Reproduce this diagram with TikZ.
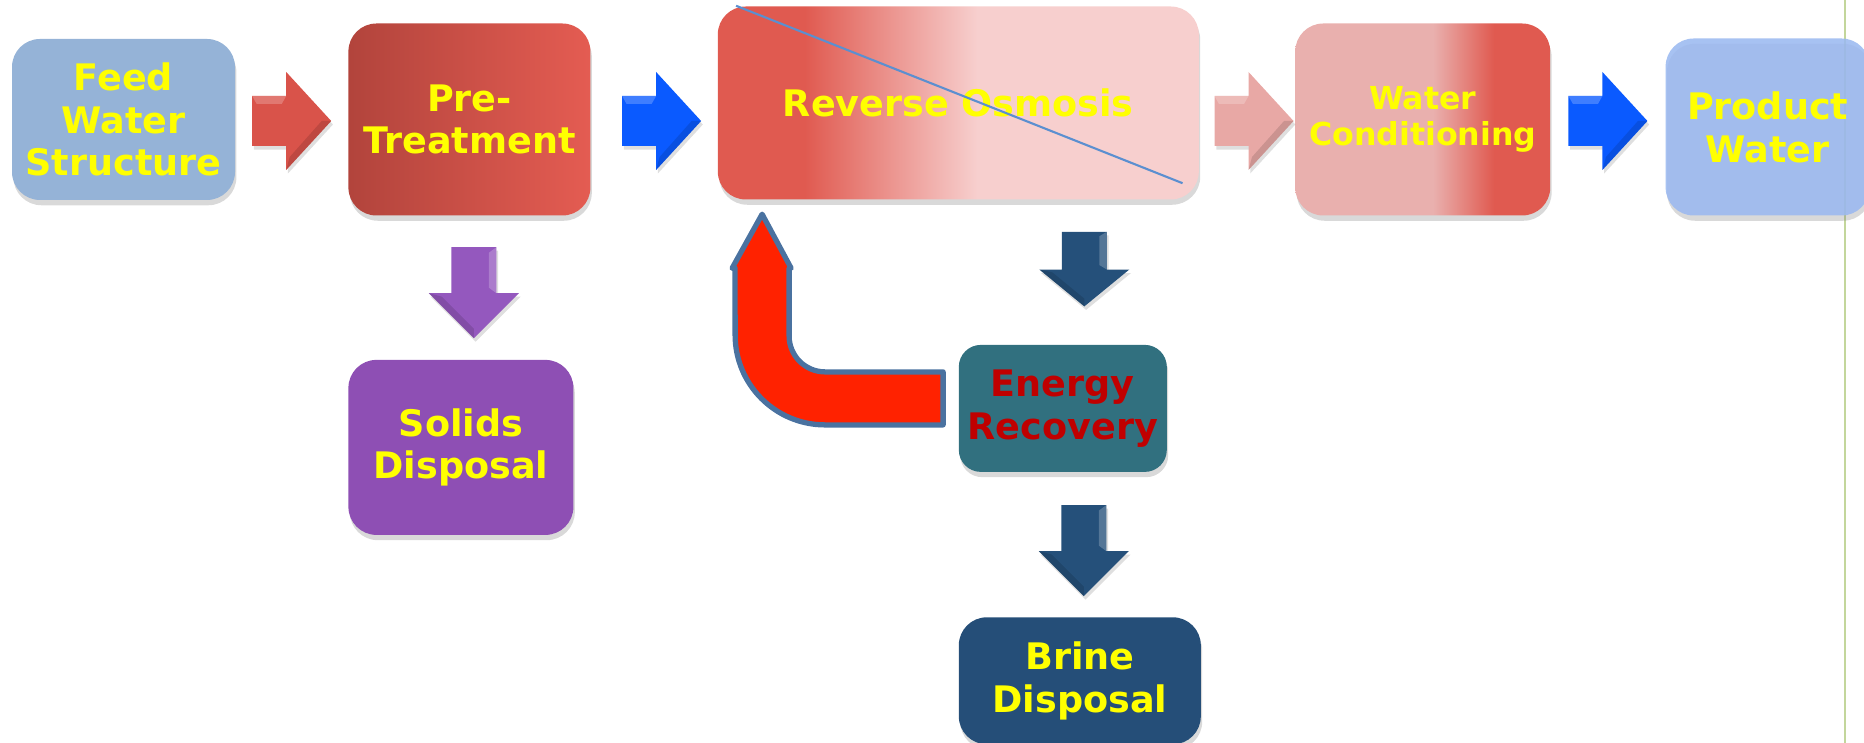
\documentclass[tikz,border=0pt]{standalone}
\usepackage{fontspec}
\setmainfont{DejaVu Sans}
\usetikzlibrary{positioning, calc, shadows}
\definecolor{textyellow}{RGB}{255, 255, 0}
\definecolor{feedblue}{RGB}{149, 179, 215}
\definecolor{preleft}{RGB}{178, 68, 60}
\definecolor{preright}{RGB}{228, 92, 82}
\definecolor{roleft}{RGB}{224, 90, 80}
\definecolor{roright}{RGB}{247, 207, 206}
\definecolor{wcleft}{RGB}{233, 176, 174}
\definecolor{wcright}{RGB}{224, 90, 80}
\definecolor{prodblue}{RGB}{155, 185, 240}
\definecolor{solidpurple}{RGB}{142, 79, 180}
\definecolor{energyteal}{RGB}{49, 112, 127}
\definecolor{energyred}{RGB}{192, 0, 0}
\definecolor{brineblue}{RGB}{37, 78, 120}
\definecolor{arrowred}{RGB}{217, 83, 74}
\definecolor{arrowblue}{RGB}{10, 90, 255}
\definecolor{arrowpink}{RGB}{232, 168, 165}
\definecolor{arrowpurple}{RGB}{148, 88, 190}
\definecolor{arrowdark}{RGB}{37, 80, 122}
\definecolor{uturnred}{RGB}{255, 34, 0}
\definecolor{uturnedge}{RGB}{74, 114, 160}
\definecolor{strikeblue}{RGB}{91, 143, 208}
\definecolor{sidegreen}{RGB}{195, 214, 155}
\pgfdeclarehorizontalshading{roshade}{100bp}{color(0bp)=(roleft); color(34bp)=(roleft); color(52bp)=(roright); color(100bp)=(roright)}
\pgfdeclarehorizontalshading{wcshade}{100bp}{color(0bp)=(wcleft); color(52bp)=(wcleft); color(64bp)=(wcright); color(100bp)=(wcright)}
\tikzset{
    stage/.style={rectangle, rounded corners=0.28cm, inner sep=0pt, align=center, text=textyellow, font=\bfseries\fontsize{10.4}{12.2}\selectfont, drop shadow={shadow xshift=0.4pt, shadow yshift=-1.5pt, opacity=0.3}},
    uturn/.style={fill=uturnred, draw=uturnedge, line width=1.5pt, line join=round},
    strike/.style={strikeblue, line width=0.6pt},
    rblock/.pic={
        \fill[drop shadow={shadow xshift=0.5pt, shadow yshift=-1pt, opacity=0.25}] (-0.395,0.25) -- (-0.055,0.25) -- (-0.055,0.49) -- (0.395,0) -- (-0.055,-0.49) -- (-0.055,-0.25) -- (-0.395,-0.25) -- cycle;
        \fill[white, opacity=0.22] (-0.395,0.25) -- (-0.055,0.25) -- (-0.1,0.17) -- (-0.35,0.17) -- cycle;
        \fill[black, opacity=0.12] (-0.055,-0.49) -- (0.395,0) -- (0.3,0) -- (-0.02,-0.36) -- cycle;
    },
    dblock/.pic={
        \fill[drop shadow={shadow xshift=0.5pt, shadow yshift=-1pt, opacity=0.25}] (-0.225,0.455) -- (0.225,0.455) -- (0.225,-0.005) -- (0.45,-0.005) -- (0,-0.455) -- (-0.45,-0.005) -- (-0.225,-0.005) -- cycle;
        \fill[white, opacity=0.22] (0.225,0.455) -- (0.225,-0.005) -- (0.15,0.05) -- (0.15,0.4) -- cycle;
        \fill[black, opacity=0.12] (-0.45,-0.005) -- (0,-0.455) -- (0,-0.36) -- (-0.32,-0.04) -- cycle;
    }
}
\begin{document}
\begin{tikzpicture}
    \useasboundingbox (0,0) rectangle (18.64,-7.43);
    \draw[sidegreen, line width=0.6pt] (18.45,0) -- (18.45,-7.43);
    % main line
    \node (feed) [stage, fill=feedblue, minimum width=2.23cm, minimum height=1.61cm] at (1.235,-1.195) {Feed\\Water\\Structure};
    \node (pre) [stage, left color=preleft, right color=preright, minimum width=2.42cm, minimum height=1.92cm, right=1.12cm of feed] {Pre-\\Treatment};
    \node (ro) [stage, shade, shading=roshade, minimum width=4.81cm, minimum height=1.93cm, right=1.26cm of pre, yshift=0.165cm] {Reverse Osmosis};
    \node (wc) [stage, shade, shading=wcshade, minimum width=2.55cm, minimum height=1.92cm, right=0.95cm of ro, yshift=-0.165cm, font=\bfseries\fontsize{9}{10.2}\selectfont] {Water\\Conditioning};
    \node (prod) [stage, fill=prodblue, fill opacity=0.88, text opacity=1, minimum width=2.04cm, minimum height=1.77cm, right=1.14cm of wc, yshift=-0.075cm] {Product\\Water};
    % side streams
    \node (solids) [stage, fill=solidpurple, minimum width=2.25cm, minimum height=1.75cm, below=1.43cm of pre.south west, anchor=north west] {Solids\\Disposal};
    \node (energy) [stage, fill=energyteal, text=energyred, rounded corners=0.22cm, minimum width=2.08cm, minimum height=1.27cm, below right=1.44cm and 2.41cm of ro.south west] {Energy\\Recovery};
    \node (brine) [stage, fill=brineblue, minimum width=2.42cm, minimum height=1.27cm, below=1.44cm of energy.south west, anchor=north west] {Brine\\Disposal};

    \draw[strike] ($(ro.north west)+(0.19,0)$) -- ($(ro.south east)+(-0.17,0.17)$);

    % block arrows
    \coordinate (arow) at (0,-1.21);
    \coordinate (m1) at ($(feed.east)!0.5!(pre.west)$);
    \coordinate (m2) at ($(pre.east)!0.5!(ro.west)$);
    \coordinate (m3) at ($(ro.east)!0.5!(wc.west)$);
    \coordinate (m4) at ($(wc.east)!0.5!(prod.west)$);
    \pic[fill=arrowred] at (m1 |- arow) {rblock};
    \pic[fill=arrowblue] at ($(m2 |- arow)+(0.075,0)$) {rblock};
    \pic[fill=arrowpink] at ($(m3 |- arow)+(0.07,0)$) {rblock};
    \pic[fill=arrowblue] at (m4 |- arow) {rblock};

    \pic[fill=arrowpurple] at ($(solids.north)+(0.13,0.665)$) {dblock};
    \pic[fill=arrowdark, yscale=0.82] at ($(brine.north)+(0.045,3.475)$) {dblock};
    \pic[fill=arrowdark] at ($(brine.north)+(0.04,0.66)$) {dblock};

    % recovered energy back to the membranes
    \coordinate (ut) at ($(ro.south west)+(0.45,-0.14)$);
    \coordinate (ue) at ($(energy.west)+(-0.15,0.10)$);
    \draw[uturn] let \p1=(ut), \p2=(ue) in
        (\x2,\y2-0.265cm) -- (\x1+0.63cm,\y2-0.265cm)
        arc[start angle=270, end angle=180, radius=0.9cm]
        -- (\x1-0.27cm,\y1-0.54cm) -- (\x1-0.30cm,\y1-0.54cm) -- (\x1,\y1)
        -- (\x1+0.29cm,\y1-0.54cm) -- (\x1+0.27cm,\y1-0.54cm)
        -- (\x1+0.27cm,\y2+0.625cm)
        arc[start angle=180, end angle=270, radius=0.36cm]
        -- (\x2,\y2+0.265cm) -- cycle;
\end{tikzpicture}
\end{document}
